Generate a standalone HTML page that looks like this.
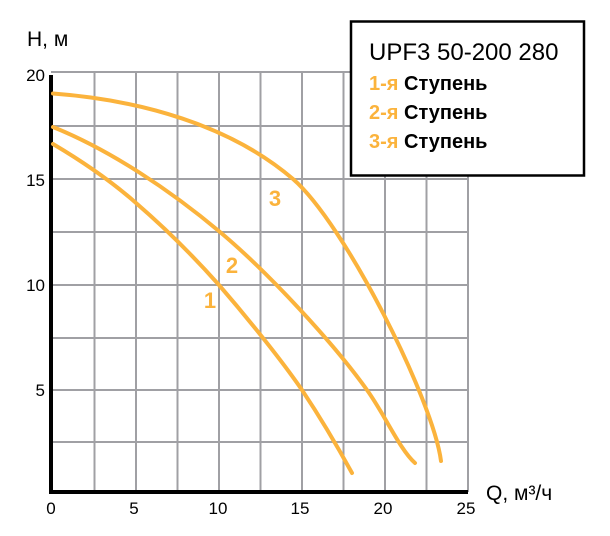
<!DOCTYPE html>
<html><head><meta charset="utf-8"><style>
body{margin:0;background:#fff;width:610px;height:536px;overflow:hidden}
svg{display:block;font-family:"Liberation Sans","DejaVu Sans",sans-serif}
</style></head><body>
<svg width="610" height="536" viewBox="0 0 610 536">
<g stroke="#a0a0a4" stroke-width="2">
<line x1="94.5" y1="72" x2="94.5" y2="492"/><line x1="136" y1="72" x2="136" y2="492"/>
<line x1="177.5" y1="72" x2="177.5" y2="492"/><line x1="219" y1="72" x2="219" y2="492"/>
<line x1="260.5" y1="72" x2="260.5" y2="492"/><line x1="302" y1="72" x2="302" y2="492"/>
<line x1="343.5" y1="72" x2="343.5" y2="492"/><line x1="385" y1="72" x2="385" y2="492"/>
<line x1="426.5" y1="72" x2="426.5" y2="492"/><line x1="468" y1="72" x2="468" y2="492"/>
<line x1="51" y1="72" x2="468" y2="72"/><line x1="51" y1="126" x2="468" y2="126"/>
<line x1="51" y1="179" x2="468" y2="179"/><line x1="51" y1="232" x2="468" y2="232"/>
<line x1="51" y1="285" x2="468" y2="285"/><line x1="51" y1="338" x2="468" y2="338"/>
<line x1="51" y1="390" x2="468" y2="390"/><line x1="51" y1="442" x2="468" y2="442"/>
</g>
<line x1="51" y1="75" x2="51" y2="494" stroke="#000" stroke-width="4"/>
<line x1="49" y1="492" x2="468" y2="492" stroke="#000" stroke-width="4"/>
<g fill="none" stroke="#fbb33c" stroke-width="4" stroke-linecap="round">
<path d="M53,93.5 C140,100 230,125 293,179 C345,224 433,400 441,461"/>
<path d="M53,127 C110,150 170,190 220,232 C270,274 335,345 367,390 C385,415 400,450 415,463"/>
<path d="M53,144 C80,160 110,180 136,203 C165,228 195,258 219,285 C245,315 280,358 302,390 C318,414 335,442 352,473"/>
</g>
<g fill="#fbb33c" font-weight="bold" font-size="22" text-anchor="middle">
<text x="275" y="206">3</text><text x="232" y="273">2</text><text x="210" y="308">1</text>
</g>
<g font-size="17" fill="#000" text-anchor="end">
<text x="45" y="81">20</text><text x="45" y="186">15</text><text x="45" y="291">10</text><text x="45" y="396">5</text>
</g>
<g font-size="17" fill="#000" text-anchor="middle">
<text x="51" y="514">0</text><text x="134" y="514">5</text><text x="218" y="514">10</text>
<text x="300" y="514">15</text><text x="383" y="514">20</text><text x="466" y="514">25</text>
</g>
<text x="27" y="46" font-size="21">H, м</text>
<text x="486" y="500" font-size="21">Q, м³/ч</text>
<rect x="351" y="21.5" width="233" height="154" fill="#fff" stroke="#000" stroke-width="2.5"/>
<text x="369" y="60" font-size="24">UPF3 50-200 280</text>
<g font-size="20" font-weight="bold">
<text x="369" y="90"><tspan fill="#fbb33c">1-я</tspan> Ступень</text>
<text x="369" y="119"><tspan fill="#fbb33c">2-я</tspan> Ступень</text>
<text x="369" y="148"><tspan fill="#fbb33c">3-я</tspan> Ступень</text>
</g>
</svg>
</body></html>
